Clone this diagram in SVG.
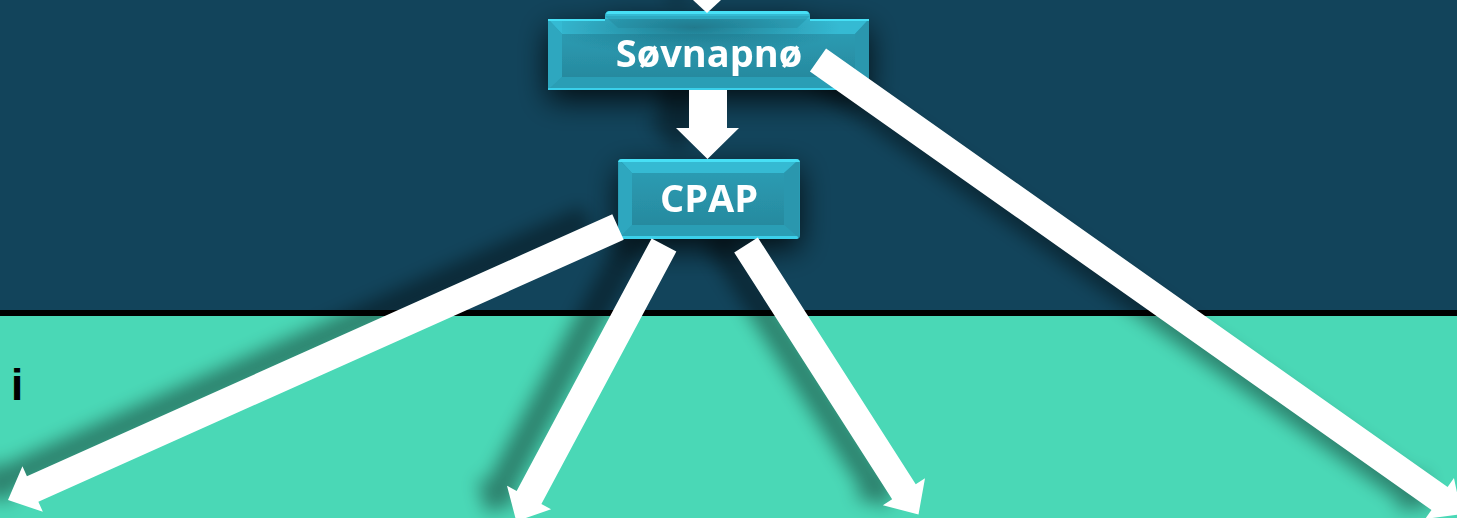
<svg xmlns="http://www.w3.org/2000/svg" width="1457" height="518" viewBox="0 0 1457 518">
  <defs>
    <linearGradient id="face" x1="0" y1="0" x2="0" y2="1">
      <stop offset="0" stop-color="#2B9BB2"/>
      <stop offset="1" stop-color="#278A9F"/>
    </linearGradient>
    <radialGradient id="dark" cx="0.45" cy="0.15" r="0.5">
      <stop offset="0" stop-color="#1E7487" stop-opacity="0.9"/>
      <stop offset="1" stop-color="#1E7487" stop-opacity="0"/>
    </radialGradient>
    <filter id="ashadow" x="-20%" y="-20%" width="140%" height="140%">
      <feGaussianBlur in="SourceAlpha" stdDeviation="9"/>
      <feOffset dx="-30" dy="-8"/>
      <feComponentTransfer><feFuncA type="linear" slope="0.4"/></feComponentTransfer>
    </filter>
    <filter id="bshadow" x="-30%" y="-80%" width="160%" height="260%">
      <feGaussianBlur in="SourceAlpha" stdDeviation="15"/>
      <feOffset dx="0" dy="10"/>
      <feComponentTransfer><feFuncA type="linear" slope="0.8"/></feComponentTransfer>
      <feMerge><feMergeNode/><feMergeNode in="SourceGraphic"/></feMerge>
    </filter>
    <polygon id="a0" points="693,0 721,0 707,13"/>
    <polygon id="a1" points="689,90 727,90 727,128 739,128 707.5,159 676,128 689,128"/>
    <polygon id="a2" points="612.28,214.22 26.93,476.19 22.44,466.15 8,500 42.86,511.79 38.37,501.75 623.72,239.78"/>
    <polygon id="a3" points="651.65,238.40 516.68,490.89 506.98,485.70 516.3,521.3 551.08,509.28 541.38,504.09 676.35,251.60"/>
    <polygon id="a4" points="734.21,252.55 892.15,499.31 882.88,505.24 918.5,514.5 925.0,478.28 915.73,484.21 757.79,237.45"/>
    <polygon id="a5" points="809.93,71.44 1431.47,509.97 1425.13,518.96 1461.6,514.1 1453.95,478.10 1447.61,487.09 826.07,48.56"/>
    <style>
      .arrow { fill: #FFFFFF; }
      .base { fill: #2B9DB5; }
      .bt { fill: #35BAD3; }
      .bl { fill: #2FA7BF; }
      .br { fill: #2A97AE; }
      .bb { fill: #2C9EB5; }
      .hl { fill: #46E0F6; }
      .lbl { font-family: "Open Sans", "Liberation Sans", sans-serif; font-weight: bold; font-size: 38px; fill: #FFFFFF; text-anchor: middle; }
      .side { font-family: "Liberation Sans", Arial, sans-serif; font-weight: bold; font-size: 44px; fill: #000000; }
    </style>
  </defs>

  <!-- background -->
  <rect x="0" y="0" width="1457" height="311" fill="#12445B"/>
  <rect x="0" y="310" width="1457" height="6" fill="#000000"/>
  <rect x="0" y="316" width="1457" height="202" fill="#4AD8B6"/>

  <text class="side" x="11" y="400">i</text>

  <!-- connector shadows -->
  <g id="connector-shadows" filter="url(#ashadow)">
    <use href="#a0"/>
    <use href="#a1"/>
    <use href="#a2"/>
    <use href="#a3"/>
    <use href="#a4"/>
    <use href="#a5"/>
  </g>

  <!-- Søvnapnø node -->
  <g id="node-sovnapno" filter="url(#bshadow)">
    <rect class="base" x="548" y="19" width="321" height="71"/>
    <polygon class="bt" points="548,19 869,19 855,34 562,34"/>
    <polygon class="bl" points="548,19 562,34 562,77 548,90"/>
    <polygon class="br" points="869,19 855,34 855,77 869,90"/>
    <polygon class="bb" points="548,90 562,77 855,77 869,90"/>
    <rect x="562" y="34" width="293" height="43" fill="url(#face)"/>
    <path class="bt" d="M605,30 L605,16 Q605,11 610,11 L805,11 Q810,11 810,16 L810,30 Z"/>
    <polygon fill="#2FAAC2" points="605,16 618,28 797,28 810,16"/>
    <rect x="562" y="19" width="293" height="58" fill="url(#dark)"/>
    <path class="hl" d="M606,14 Q607,11 610,11 L805,11 Q808,11 809,14 Z"/>
    <rect class="hl" x="548" y="19" width="57" height="2"/>
    <rect class="hl" x="810" y="19" width="59" height="2"/>
    <rect x="548" y="88" width="321" height="2" fill="#3BD0EA"/>
    <text class="lbl" x="709" y="67">Søvnapnø</text>
  </g>

  <!-- CPAP node -->
  <g id="node-cpap" filter="url(#bshadow)">
    <rect class="base" x="618" y="159" width="182" height="80" rx="4"/>
    <polygon class="bt" points="620,160 798,160 784,173 632,173"/>
    <polygon class="bl" points="619,160 632,173 632,225 619,238"/>
    <polygon class="br" points="799,160 784,173 784,225 799,238"/>
    <polygon class="bb" points="619,238 632,225 784,225 799,238"/>
    <rect x="632" y="173" width="152" height="52" fill="url(#face)"/>
    <path class="hl" d="M618,163 Q618,159 622,159 L796,159 Q800,159 800,163 L800,162 L618,162 Z"/>
    <rect x="620" y="236" width="178" height="3" rx="1.5" fill="#3BD0EA"/>
    <text class="lbl" x="709" y="212">CPAP</text>
  </g>

  <!-- connectors -->
  <g id="connectors" class="arrow">
    <use href="#a0"/>
    <use href="#a1"/>
    <use href="#a2"/>
    <use href="#a3"/>
    <use href="#a4"/>
    <use href="#a5"/>
  </g>
</svg>
